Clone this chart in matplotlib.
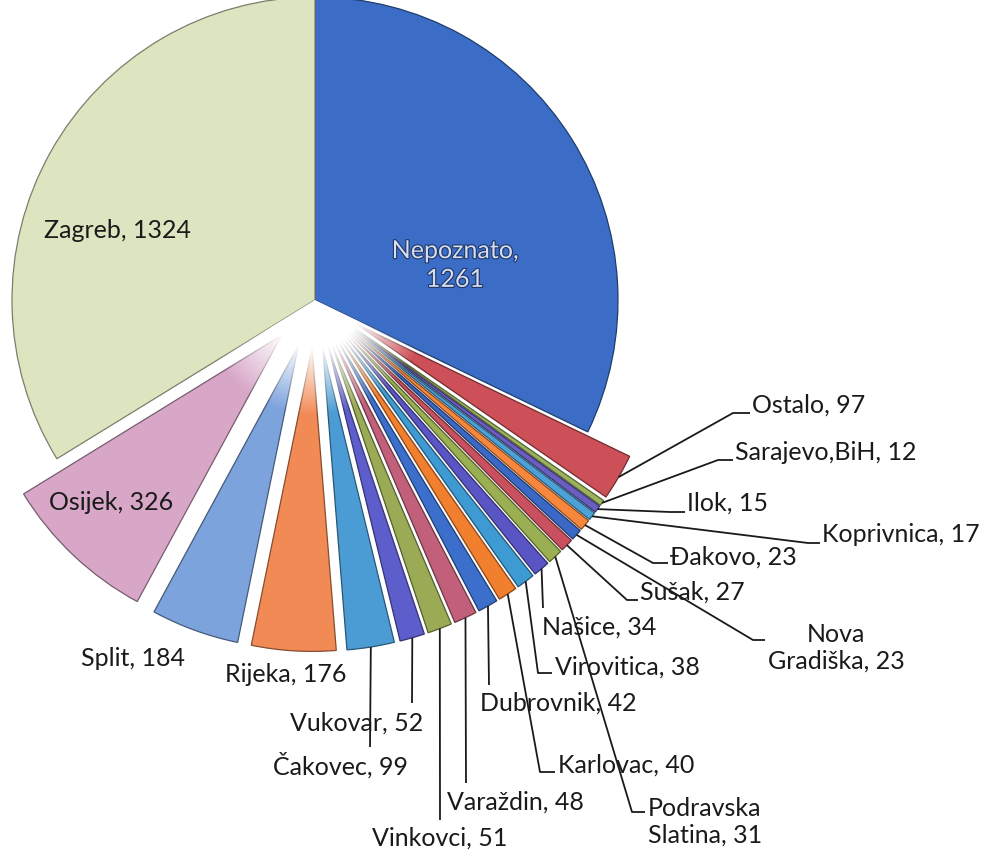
import numpy as np
import matplotlib.pyplot as plt
import matplotlib.colors as mcolors
import matplotlib.patheffects as pe
from matplotlib.patches import Wedge

plt.rcParams['font.family'] = ['Lato', 'DejaVu Sans']

# data, clockwise from 12 o'clock
cities = ['Nepoznato', 'Ostalo', 'Sarajevo,BiH', 'Ilok', 'Koprivnica', 'Đakovo',
          'Nova Gradiška', 'Sušak', 'Podravska Slatina', 'Našice', 'Virovitica',
          'Karlovac', 'Dubrovnik', 'Varaždin', 'Vinkovci', 'Vukovar', 'Čakovec',
          'Rijeka', 'Split', 'Osijek', 'Zagreb']
counts = [1261, 97, 12, 15, 17, 23, 23, 27, 31, 34, 38, 40, 42, 48, 51, 52, 99,
          176, 184, 326, 1324]
labels = ['Nepoznato,\n1261', 'Ostalo, 97', 'Sarajevo,BiH, 12', 'Ilok, 15',
          'Koprivnica, 17', 'Đakovo, 23', 'Nova\nGradiška, 23', 'Sušak, 27',
          'Podravska\nSlatina, 31', 'Našice, 34', 'Virovitica, 38', 'Karlovac, 40',
          'Dubrovnik, 42', 'Varaždin, 48', 'Vinkovci, 51', 'Vukovar, 52',
          'Čakovec, 99', 'Rijeka, 176', 'Split, 184', 'Osijek, 326', 'Zagreb, 1324']

colors = ['#3B6DC7', '#CD4F57', '#9DB35B', '#6A5FC0', '#4CA2D6', '#F7873C',
          '#3A68C4', '#C9505E', '#9AAE52', '#5A55C4', '#3E9AD2', '#F27F2E',
          '#3C6FCB', '#C2607C', '#9AAA55', '#5D5ECB', '#4B9CD5', '#F28A56',
          '#7DA3DD', '#D8A7C8', '#DDE5C0']
explode = [0.0] + [0.16] * 19 + [0.0]

# pie centre and radius in pixels of the 987x851 picture
CX, CY, R = 315, 300, 303


def px(x, y):
    return ((x - CX) / R, (CY - y) / R)


# label text positions (pixels): x, y, horizontal alignment
text_pos = {
    0: (455, 265, 'center'), 1: (752, 405, 'left'), 2: (735, 453, 'left'),
    3: (687, 503, 'left'), 4: (822, 535, 'left'), 5: (670, 557, 'left'),
    6: (836, 648, 'center'), 7: (640, 592, 'left'), 8: (705, 822, 'center'),
    9: (542, 627, 'left'), 10: (555, 667, 'left'), 11: (558, 765, 'left'),
    12: (480, 703, 'left'), 13: (447, 802, 'left'), 14: (372, 838, 'left'),
    15: (290, 723, 'left'), 16: (273, 765, 'left'), 17: (286, 675, 'center'),
    18: (133, 658, 'center'), 19: (111, 502, 'center'), 20: (118, 230, 'center'),
}
# leader line bend points (pixels)
leaders = {
    1: [(733, 413), (750, 413)], 2: [(718, 460), (733, 460)],
    3: [(670, 512), (685, 512)], 4: [(808, 543), (820, 543)],
    5: [(653, 563), (668, 563)], 6: [(753, 640), (765, 640)],
    7: [(627, 600), (638, 600)], 8: [(632, 812), (645, 812)],
    9: [(543, 608)], 10: [(538, 673), (552, 673)],
    11: [(540, 772), (555, 772)], 12: [(489, 685)], 13: [(466, 783)],
    14: [(440, 820)], 15: [(412, 703)], 16: [(370, 747)],
}

fig = plt.figure(figsize=(9.87, 8.51), dpi=100)
ax = fig.add_axes([0, 0, 1, 1])

wedges, _ = ax.pie(counts, colors=colors, explode=explode, startangle=90,
                   counterclock=False, radius=1,
                   wedgeprops=dict(linewidth=0.9))
for w, c in zip(wedges, colors):
    w.set_edgecolor(tuple(np.array(mcolors.to_rgb(c)) * 0.55))

# white glow where the small slices meet near the centre
gx = np.linspace(-0.6, 0.6, 300)
gxx, gyy = np.meshgrid(gx, gx)
rr = np.hypot(gxx, gyy)
glow = np.ones(rr.shape + (4,))
glow[..., 3] = np.clip((0.38 - rr) / 0.22, 0, 1)
im = ax.imshow(glow, extent=(-0.6, 0.6, -0.6, 0.6), origin='lower', zorder=2,
               interpolation='bilinear')
clip = Wedge((0, 0), 0.6, wedges[-1].theta2, wedges[0].theta1,
             transform=ax.transData)
im.set_clip_path(clip)

for i, w in enumerate(wedges):
    mid = np.deg2rad((w.theta1 + w.theta2) / 2)
    if i in leaders:
        start = (w.center[0] + np.cos(mid), w.center[1] + np.sin(mid))
        pts = [start] + [px(*p) for p in leaders[i]]
        xs, ys = zip(*pts)
        ax.plot(xs, ys, color='#1A1A1A', lw=1.3, solid_capstyle='butt', zorder=3)
    x, y, ha = text_pos[i]
    tx, ty = px(x, y)
    if i == 0:
        ax.text(tx, ty, labels[i], ha='center', va='center', fontsize=18,
                color='#D5DEEF', linespacing=1.3, zorder=4,
                path_effects=[pe.withStroke(linewidth=1.6, foreground='#1F3565')])
    else:
        ax.text(tx, ty, labels[i], ha=ha, va='center', fontsize=18,
                color='#1A1A1A', linespacing=1.2, zorder=4,
                multialignment='center')

x0, y0 = px(0, 0)
x1, y1 = px(987, 851)
ax.set_xlim(x0, x1)
ax.set_ylim(y1, y0)
ax.set_aspect('equal')
ax.axis('off')

fig.savefig('out.png', dpi=100, facecolor='white')
